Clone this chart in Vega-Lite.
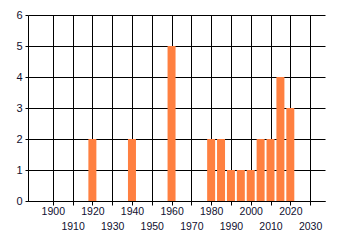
{
  "$schema": "https://vega.github.io/schema/vega-lite/v6.json",
  "autosize": "none",
  "width": 297,
  "height": 186,
  "padding": {"left": 28, "top": 15, "right": 15, "bottom": 44},
  "background": "white",
  "config": {"view": {"stroke": null}},
  "data": {"values": [
    {"year": 1920, "count": 2},
    {"year": 1940, "count": 2},
    {"year": 1960, "count": 5},
    {"year": 1980, "count": 2},
    {"year": 1985, "count": 2},
    {"year": 1990, "count": 1},
    {"year": 1995, "count": 1},
    {"year": 2000, "count": 1},
    {"year": 2005, "count": 2},
    {"year": 2010, "count": 2},
    {"year": 2015, "count": 4},
    {"year": 2020, "count": 3}
  ]},
  "mark": {"type": "bar", "color": "#FF8040", "size": 8},
  "encoding": {
    "x": {
      "field": "year", "type": "quantitative",
      "scale": {"domain": [1890, 2035], "nice": false, "zero": false},
      "axis": {
        "title": null,
        "values": [1900, 1910, 1920, 1930, 1940, 1950, 1960, 1970, 1980, 1990, 2000, 2010, 2020, 2030],
        "format": "d",
        "grid": true, "gridColor": "black", "gridOpacity": 1, "gridWidth": 1,
        "domainColor": "black", "domainWidth": 1,
        "tickColor": "black", "tickSize": 4, "tickWidth": 1,
        "labelFont": "Liberation Sans", "labelFontSize": 10.5, "labelColor": "#101030",
        "labelPadding": {"condition": {"test": "datum.value % 20 == 10", "value": 16}, "value": 1},
        "labelOverlap": false, "labelFlush": false
      }
    },
    "y": {
      "field": "count", "type": "quantitative",
      "scale": {"domain": [0, 6], "nice": false},
      "axis": {
        "title": null,
        "values": [0, 1, 2, 3, 4, 5, 6],
        "grid": true, "gridColor": "black", "gridOpacity": 1, "gridWidth": 1,
        "domainColor": "black", "domainWidth": 1,
        "tickColor": "black", "tickSize": 3, "tickWidth": 1,
        "labelFont": "Liberation Sans", "labelFontSize": 11, "labelColor": "#101030",
        "labelPadding": 3, "labelOverlap": false, "labelFlush": false
      }
    }
  }
}
